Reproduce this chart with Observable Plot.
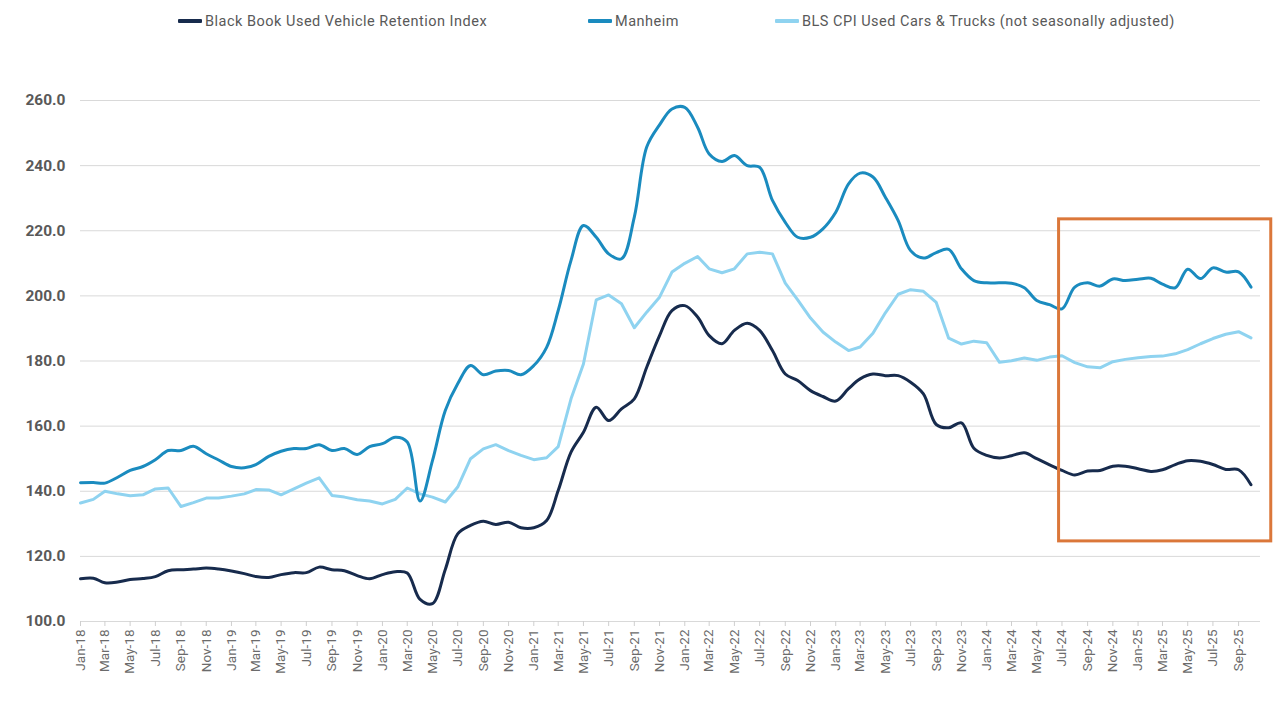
<!DOCTYPE html>
<html>
<head>
<meta charset="utf-8">
<script src="https://cdn.jsdelivr.net/npm/d3@7"></script>
<script src="https://cdn.jsdelivr.net/npm/@observablehq/plot@0.6"></script>
<style>
  html, body { margin: 0; padding: 0; background: #fff; }
  #wrap { width: 1280px; height: 720px; position: relative; overflow: hidden; font-family: Roboto, "Noto Sans", sans-serif; }
  #legend { position: relative; height: 40px; width: 1280px; }
  .item { position: absolute; top: 12px; height: 18px; display: flex; align-items: center; color: #595959; font-size: 14.5px; letter-spacing: 0.5px; white-space: nowrap; }
  .sw { width: 24px; height: 4px; margin-right: 3px; border-radius: 1px; }
  svg g[aria-label="y-axis tick label"] text { font-weight: 700; font-size: 15.5px; }
  svg g[aria-label="x-axis tick label"] text { font-size: 13.5px; }
</style>
</head>
<body>
<div id="wrap">
  <div id="legend"></div>
  <div id="chart"></div>
</div>
<script>
// ---- Data (monthly, Jan-18 .. Oct-25) ----
const seriesNames = [
  "Black Book Used Vehicle Retention Index",
  "Manheim",
  "BLS CPI Used Cars & Trucks (not seasonally adjusted)"
];
const seriesColors = ["#172B4D", "#1A8BBF", "#8FD3F0"];

const blackBook = [
  113.1,113.3,111.9,112.1,112.9,113.2,113.8,115.6,115.9,116.1,116.4,116.1,
  115.5,114.7,113.8,113.5,114.4,115.0,115.0,116.7,115.9,115.6,114.1,113.1,
  114.4,115.3,114.9,106.8,105.5,116.0,126.9,129.5,130.8,129.8,130.5,128.8,
  128.8,131.0,140.2,152.0,158.1,165.8,161.7,165.3,168.4,178.1,187.8,195.5,
  197.0,193.5,187.8,185.3,189.4,191.6,189.4,183.2,176.0,174.0,170.9,169.1,
  167.7,171.5,174.5,176.0,175.5,175.5,173.5,169.9,160.5,159.5,161.0,153.2,
  151.0,150.2,150.9,151.8,150.0,148.1,146.4,145.0,146.2,146.4,147.7,147.7,
  146.9,146.1,146.6,148.2,149.4,149.2,148.2,146.7,146.6,142.0
];
const manheim = [
  142.6,142.7,142.5,144.3,146.4,147.6,149.7,152.5,152.5,153.8,151.5,149.6,
  147.6,147.2,148.2,150.7,152.3,153.1,153.1,154.3,152.5,153.1,151.3,153.7,
  154.6,156.6,155.1,137.0,149.4,164.8,173.0,178.6,175.8,176.9,177.1,175.8,
  178.6,184.2,195.5,210.9,221.6,218.0,212.9,211.4,224.2,245.7,252.5,257.4,
  257.9,251.8,243.6,241.3,243.1,240.0,239.5,229.3,222.6,218.0,218.0,220.6,
  225.7,234.4,237.7,236.5,230.3,223.1,213.9,211.6,213.3,214.3,208.3,204.7,
  204.0,204.0,203.9,202.5,198.6,197.3,196.0,202.7,204.0,203.0,205.2,204.7,
  205.1,205.4,203.6,202.5,208.2,205.3,208.6,207.3,207.4,202.7
];
const bls = [
  136.4,137.5,140.0,139.2,138.6,138.9,140.7,141.0,135.3,136.5,137.9,137.9,
  138.5,139.2,140.5,140.4,138.9,140.7,142.5,144.1,138.7,138.2,137.4,137.0,
  136.1,137.5,141.0,139.2,138.2,136.7,141.3,150.0,153.0,154.3,152.5,151.0,
  149.7,150.3,153.7,168.4,179.1,198.8,200.3,197.6,190.2,195.0,199.6,207.3,
  210.0,212.1,208.3,207.1,208.3,212.9,213.4,212.9,203.9,198.8,193.2,188.9,
  185.8,183.2,184.3,188.5,194.8,200.5,201.9,201.4,198.0,187.0,185.2,186.1,
  185.6,179.6,180.1,180.9,180.2,181.2,181.6,179.5,178.2,177.9,179.8,180.5,
  181.0,181.4,181.5,182.2,183.5,185.3,186.9,188.2,189.0,187.1
];
const yTicks = [100,120,140,160,180,200,220,240,260];
// highlighted period (annotation box), in data units
const highlight = [{start: "2024-06-24", end: "2025-11-19", low: 124.6, high: 223.5}];

// ---- Build ----
const months = d3.utcMonth.range(new Date(Date.UTC(2018,0,1)), new Date(Date.UTC(2025,10,1)));
const toRows = (vals) => vals.map((v, i) => ({date: months[i], value: v}));
const rowsBB = toRows(blackBook), rowsM = toRows(manheim), rowsB = toRows(bls);
const xTicks = d3.utcMonth.every(2).range(new Date(Date.UTC(2018,0,1)), new Date(Date.UTC(2025,9,2)));
const hl = highlight.map(d => ({x1: new Date(d.start), x2: new Date(d.end), y1: d.low, y2: d.high}));

// legend
const legendLefts = [178, 588, 775];
const legend = document.getElementById("legend");
seriesNames.forEach((name, i) => {
  const it = document.createElement("div");
  it.className = "item";
  it.style.left = legendLefts[i] + "px";
  const sw = document.createElement("div");
  sw.className = "sw";
  sw.style.background = seriesColors[i];
  const tx = document.createElement("span");
  tx.textContent = name;
  it.appendChild(sw); it.appendChild(tx);
  legend.appendChild(it);
});

const chart = Plot.plot({
  width: 1280,
  height: 680,
  marginTop: 60,
  marginLeft: 80,
  marginRight: 20,
  marginBottom: 99,
  style: {fontFamily: "Roboto, 'Noto Sans', sans-serif", background: "#fff"},
  x: {type: "utc", domain: [new Date(Date.UTC(2018,0,1)), new Date(Date.UTC(2025,9,24))]},
  y: {domain: [100, 260]},
  marks: [
    Plot.gridY(yTicks, {stroke: "#d9d9d9", strokeOpacity: 1, strokeWidth: 1}),
    Plot.ruleY([100], {stroke: "#d9d9d9", strokeWidth: 1.2}),
    Plot.axisY({ticks: yTicks, tickSize: 0, tickPadding: 15, tickFormat: d => d.toFixed(1), fill: "#595959", label: null}),
    Plot.axisX({ticks: xTicks, tickFormat: d3.utcFormat("%b-%y"), tickRotate: -90, tickSize: 5, tickPadding: 3, stroke: "#cfcfcf", fill: "#6b6b6b", label: null}),
    Plot.line(rowsB, {x: "date", y: "value", stroke: seriesColors[2], strokeWidth: 3, curve: "linear"}),
    Plot.line(rowsM, {x: "date", y: "value", stroke: seriesColors[1], strokeWidth: 3, curve: "catmull-rom"}),
    Plot.line(rowsBB, {x: "date", y: "value", stroke: seriesColors[0], strokeWidth: 3, curve: "catmull-rom"}),
    Plot.rect(hl, {x1: "x1", x2: "x2", y1: "y1", y2: "y2", fill: "none", stroke: "#DB773A", strokeWidth: 3, clip: false})
  ]
});
document.getElementById("chart").appendChild(chart);
</script>
</body>
</html>
